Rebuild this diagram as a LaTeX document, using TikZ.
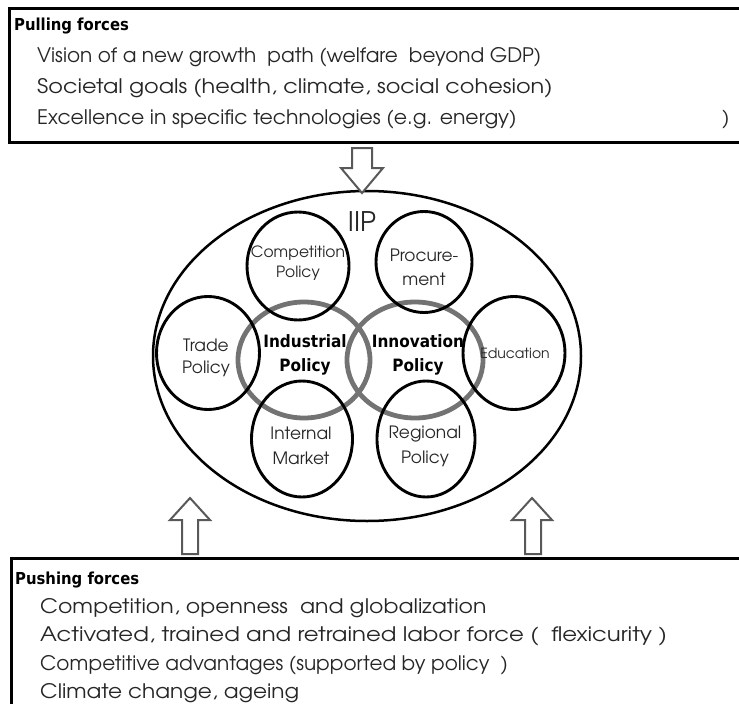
\documentclass[tikz,border=0pt]{standalone}
\usepackage{graphicx}
\usepackage{fontspec}
\setmainfont{TeX Gyre Adventor}
\newfontfamily\bfam{DejaVu Sans Condensed}
\usetikzlibrary{shapes.geometric}
\newcommand{\wx}[2]{\scalebox{#1}[1]{#2}}
\begin{document}
\begin{tikzpicture}[x=1pt,y=-1pt,
  body/.style={anchor=west, inner sep=0, text=black!85, font=\fontsize{20}{24}\selectfont},
  head/.style={anchor=west, inner sep=0, font=\bfam\bfseries\fontsize{16.5}{18}\selectfont},
  frame/.style={draw=black, line width=3pt, anchor=north west, outer sep=0, inner sep=0},
  pol/.style={ellipse, draw=black, line width=2.9pt, inner sep=0, outer sep=0},
  pollabel/.style={align=center, inner sep=0, text=black!85, font=\fontsize{17}{24}\selectfont},
  core/.style={ellipse, draw=black!55, line width=4.8pt, inner sep=0, outer sep=0},
  corelabel/.style={align=center, inner sep=0, font=\bfam\bfseries\fontsize{17}{24}\selectfont},
  blockarrow/.style={draw=black!65, line width=2pt, fill=white, line join=miter},
]
\useasboundingbox (0,0) rectangle (739,704);

% boxes
\node[frame, minimum width=760pt, minimum height=134pt] (pullbox) at (9,8) {};
\node[frame, minimum width=760pt, minimum height=200pt] (pushbox) at (11,558) {};

% pulling text
\node[head] (pullhead) at (14,26) {Pulling forces};
\node[body] (pull1) at (37,57) {Vision of a new growth\ \ path (welfare\ \ beyond GDP)};
\node[body] (pull2) at (37,88) {\wx{1.12}{Societal goals (health, climate, social cohesion)}};
\node[body] (pull3) at (37,119) {\wx{1.02}{Excellence in specific technologies (e.g. energy)}};
\node[body] (pull4) at (722,119) {)};

% pushing text
\node[head] (pushhead) at (15,580) {Pushing forces};
\node[body] (push1) at (40,608) {\wx{1.1}{Competition, openness\ \ and globalization}};
\node[body] (push2) at (40,636.5) {\wx{1.14}{Activated, trained and retrained labor force (\ \ flexicurity )}};
\node[body] (push3) at (40,665) {Competitive advantages (supported by policy\ \ )};
\node[body] (push4) at (40,693) {\wx{1.08}{Climate change, ageing}};

% big ellipse
\node[ellipse, draw=black, line width=2.5pt, minimum width=428pt, minimum height=330pt, inner sep=0, outer sep=0] (iip) at (367,356) {};
\node[inner sep=0, text=black!85, font=\fontsize{27}{28}\selectfont] (iiplabel) at (362,222) {IIP};

% gray core circles
\node[core, minimum width=132pt, minimum height=116pt] (ind) at (304,360) {};
\node[core, minimum width=136pt, minimum height=116pt] (inn) at (415,360) {};

% black policy circles
\node[pol, minimum width=102pt, minimum height=108pt] (comp) at (298,266) {};
\node[pol, minimum width=96pt, minimum height=101pt] (proc) at (424,262) {};
\node[pol, minimum width=103pt, minimum height=113pt] (trade) at (208,353) {};
\node[pol, minimum width=102pt, minimum height=113pt] (edu) at (514,353) {};
\node[pol, minimum width=101pt, minimum height=116pt] (intm) at (302,439) {};
\node[pol, minimum width=98pt, minimum height=116pt] (reg) at (426,439) {};

% policy labels
\node[pollabel, font=\fontsize{15.5}{20}\selectfont] (complabel) at (298,263) {Competition\\Policy};
\node[pollabel] (proclabel) at (424,267) {Procure-\\ment};
\node[pollabel, font=\fontsize{17}{22}\selectfont] (tradelabel) at (206,358) {Trade\\Policy};
\node[pollabel, font=\fontsize{14}{16}\selectfont] (edulabel) at (515,353) {Education};
\node[pollabel, font=\fontsize{17}{25}\selectfont] (intmlabel) at (301,446) {Internal\\Market};
\node[pollabel, font=\fontsize{17}{25}\selectfont] (reglabel) at (425,446) {Regional\\Policy};

% core labels
\node[corelabel] (indlabel) at (305,355) {Industrial\\Policy};
\node[corelabel] (innlabel) at (418,355) {Innovation\\Policy};

% block arrows
\draw[blockarrow] (352,148) -- (372,148) -- (372,168) -- (383,168) -- (362,193) -- (341,168) -- (352,168) -- cycle;
\draw[blockarrow] (182,554) -- (198,554) -- (198,520) -- (210,520) -- (190,498) -- (170,520) -- (182,520) -- cycle;
\draw[blockarrow] (525,554) -- (541,554) -- (541,520) -- (552,520) -- (532,498) -- (512,520) -- (525,520) -- cycle;
\end{tikzpicture}
\end{document}
